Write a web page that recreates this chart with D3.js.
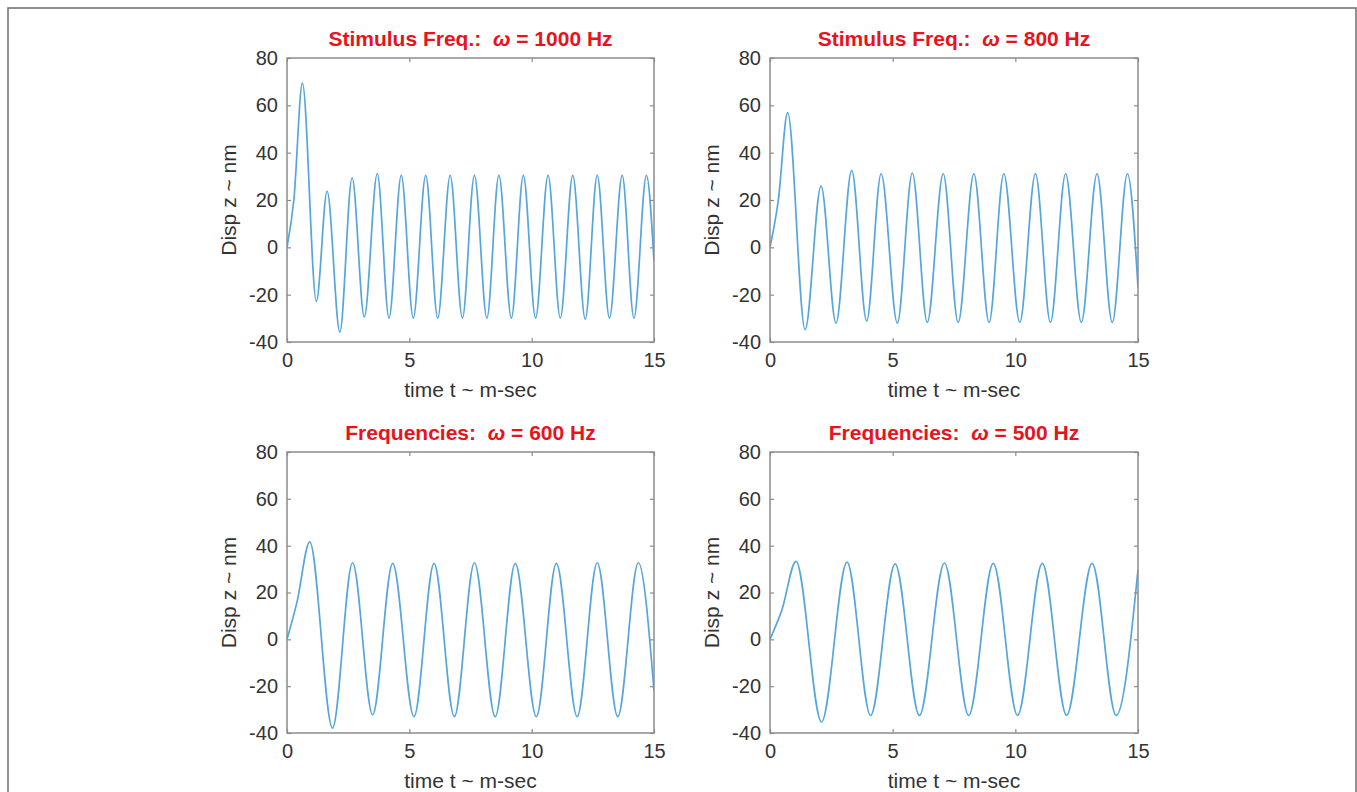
<!DOCTYPE html>
<html>
<head>
<meta charset="utf-8">
<script src="https://cdn.jsdelivr.net/npm/d3@7"></script>
<style>
  html, body { margin: 0; padding: 0; background: #fff; }
  svg { display: block; }
  text { font-family: "Liberation Sans", Arial, Helvetica, sans-serif; }
</style>
</head>
<body>
<svg id="fig" width="1357" height="792"></svg>
<script>
// Displacement response z(t) for four stimulus frequencies:
// sampled at start, every local extremum and at t = 15 ms.
const t1000 = [0, 0.28, 0.63, 1.20, 1.64, 2.16, 2.66, 3.16, 3.69, 4.17, 4.67, 5.16, 5.67, 6.16, 6.67, 7.17, 7.66, 8.17, 8.66, 9.17, 9.66, 10.16, 10.67, 11.17, 11.68, 12.19, 12.68, 13.18, 13.70, 14.18, 14.69, 15];
const z1000 = [0, 20, 69.4, -22.8, 23.7, -35.8, 29.4, -29.4, 31.1, -29.9, 30.4, -29.9, 30.4, -29.9, 30.4, -29.9, 30.4, -29.9, 30.4, -29.9, 30.4, -29.9, 30.4, -29.9, 30.4, -30.3, 30.4, -29.9, 30.4, -29.9, 30.4, -6];

const t800 = [0, 0.34, 0.72, 1.43, 2.08, 2.69, 3.33, 3.94, 4.53, 5.19, 5.80, 6.41, 7.06, 7.67, 8.31, 8.93, 9.53, 10.18, 10.82, 11.43, 12.05, 12.69, 13.33, 13.95, 14.57, 15];
const z800 = [0, 20, 56.9, -34.8, 25.9, -32.0, 32.5, -31.1, 31.1, -32.0, 31.4, -31.7, 31.1, -31.7, 31.1, -31.7, 31.1, -31.7, 31.1, -31.7, 31.1, -31.7, 31.1, -31.7, 31.1, -17];

const t600 = [0, 0.41, 0.93, 1.86, 2.68, 3.50, 4.32, 5.19, 6.01, 6.84, 7.66, 8.51, 9.33, 10.19, 11.01, 11.86, 12.68, 13.52, 14.36, 15];
const z600 = [0, 16, 41.6, -37.9, 32.7, -32.2, 32.4, -33.0, 32.4, -33.0, 32.7, -33.0, 32.4, -33.0, 32.4, -33.0, 32.7, -33.0, 32.7, -22];

const t500 = [0, 0.49, 1.06, 2.10, 3.14, 4.10, 5.10, 6.09, 7.11, 8.10, 9.10, 10.09, 11.10, 12.09, 13.13, 14.11, 15];
const z500 = [0, 12.7, 33.3, -35.3, 33.0, -32.5, 32.2, -32.5, 32.6, -32.5, 32.4, -32.5, 32.4, -32.5, 32.4, -32.5, 29.8];

const titlePrefix = ["Stimulus Freq.:  ", "Stimulus Freq.:  ", "Frequencies:  ", "Frequencies:  "];
const freqs = [1000, 800, 600, 500];
const xTicks = [0, 5, 10, 15];
const yTicks = [-40, -20, 0, 20, 40, 60, 80];
const xLabel = "time t ~ m-sec";
const yLabel = "Disp z ~ nm";

const series = [
  { t: t1000, z: z1000 },
  { t: t800, z: z800 },
  { t: t600, z: z600 },
  { t: t500, z: z500 }
];

// Panel frames in pixels (left, top, width, height)
const panels = [
  { x: 287, y: 58, w: 367, h: 284 },
  { x: 770, y: 58, w: 368, h: 284 },
  { x: 287, y: 452, w: 367, h: 281 },
  { x: 770, y: 452, w: 368, h: 281 }
];

const svg = d3.select("#fig");
const axisColor = "#8c8c8c";
const textColor = "#333333";
const lineColor = "#55a6db";
const tickLen = 4;
const fmt = d => String(d);   // plain hyphen-minus, as in the tick labels

// outer frame
svg.append("rect")
  .attr("x", 8).attr("y", 8)
  .attr("width", 1348).attr("height", 800)
  .attr("fill", "none")
  .attr("stroke", "#6e6e6e")
  .attr("stroke-width", 1.5);

panels.forEach((p, i) => {
  const g = svg.append("g").attr("transform", `translate(${p.x},${p.y})`);
  const x = d3.scaleLinear().domain([0, 15]).range([0, p.w]);
  const y = d3.scaleLinear().domain([-40, 80]).range([p.h, 0]);

  // data line, clipped to the axes box
  const clipId = "clip" + i;
  g.append("clipPath").attr("id", clipId)
    .append("rect").attr("x", 0).attr("y", 0).attr("width", p.w).attr("height", p.h);

  const s = series[i];
  const pts = s.t.map((tv, k) => [tv, s.z[k]]);
  const line = d3.line()
    .x(d => x(d[0]))
    .y(d => y(d[1]))
    .curve(d3.curveMonotoneX);

  g.append("path")
    .datum(pts)
    .attr("clip-path", `url(#${clipId})`)
    .attr("d", line)
    .attr("fill", "none")
    .attr("stroke", lineColor)
    .attr("stroke-width", 1.7)
    .attr("stroke-linejoin", "round");

  // axes: labels on bottom/left, mirrored inward ticks on top/right
  const styleAxis = sel => {
    sel.select(".domain").remove();
    sel.selectAll(".tick line").attr("stroke", axisColor).attr("stroke-width", 1.2);
    sel.selectAll(".tick text")
      .attr("fill", textColor)
      .style("font-size", "20px");
  };

  g.append("g").attr("transform", `translate(0,${p.h})`)
    .call(d3.axisBottom(x).tickValues(xTicks).tickSizeInner(-tickLen).tickSizeOuter(0).tickPadding(11).tickFormat(fmt))
    .call(styleAxis);
  g.append("g")
    .call(d3.axisTop(x).tickValues(xTicks).tickSizeInner(-tickLen).tickSizeOuter(0).tickFormat(""))
    .call(styleAxis);
  g.append("g")
    .call(d3.axisLeft(y).tickValues(yTicks).tickSizeInner(-tickLen).tickSizeOuter(0).tickPadding(9).tickFormat(fmt))
    .call(styleAxis);
  g.append("g").attr("transform", `translate(${p.w},0)`)
    .call(d3.axisRight(y).tickValues(yTicks).tickSizeInner(-tickLen).tickSizeOuter(0).tickFormat(""))
    .call(styleAxis);

  // box
  g.append("rect")
    .attr("x", 0).attr("y", 0).attr("width", p.w).attr("height", p.h)
    .attr("fill", "none")
    .attr("stroke", axisColor)
    .attr("stroke-width", 1.5);

  // title
  const title = g.append("text")
    .attr("x", p.w / 2)
    .attr("y", -12)
    .attr("text-anchor", "middle")
    .attr("fill", "#e8131b")
    .style("font-size", "21px")
    .style("font-weight", "bold")
    .attr("xml:space", "preserve");
  title.append("tspan").text(titlePrefix[i]);
  title.append("tspan").style("font-style", "italic").text("\u03C9");
  title.append("tspan").text(` = ${freqs[i]} Hz`);

  // axis labels
  g.append("text")
    .attr("x", p.w / 2)
    .attr("y", p.h + 55)
    .attr("text-anchor", "middle")
    .attr("fill", textColor)
    .style("font-size", "21px")
    .text(xLabel);

  g.append("text")
    .attr("transform", `translate(-51,${p.h / 2}) rotate(-90)`)
    .attr("text-anchor", "middle")
    .attr("fill", textColor)
    .style("font-size", "21px")
    .text(yLabel);
});
</script>
</body>
</html>
